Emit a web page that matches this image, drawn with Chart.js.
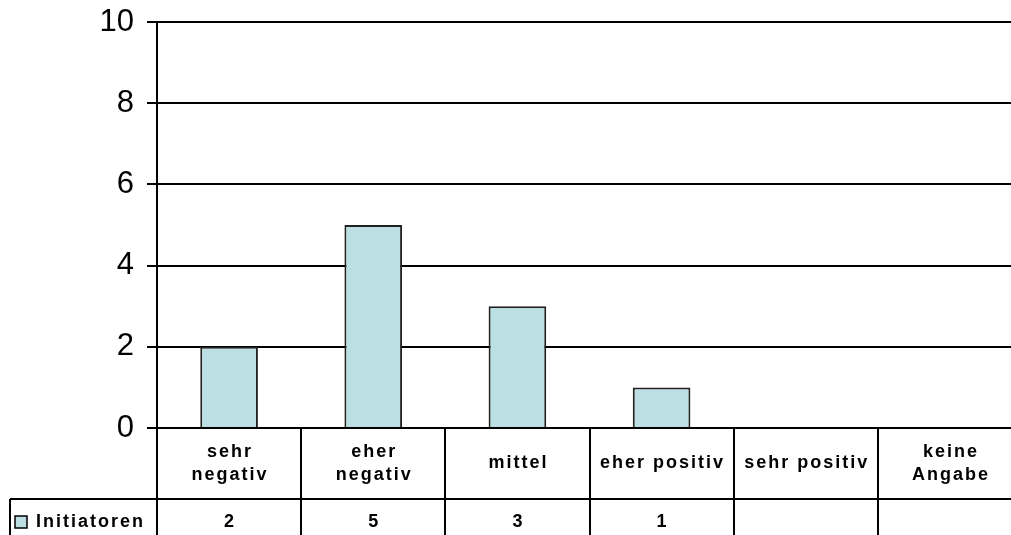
<!DOCTYPE html>
<html>
<head>
<meta charset="utf-8">
<script src="https://cdn.jsdelivr.net/npm/chart.js@4"></script>
<style>
    body { margin: 0; background: #fff; }
    #wrap { width: 1011px; height: 535px; overflow: hidden; position: relative; }
</style>
</head>
<body>
<div id="wrap"><canvas id="myChart" width="1022" height="535"></canvas></div>
<script>
// Données du graphique
const categories = [['sehr', 'negativ'], ['eher', 'negativ'], ['mittel'], ['eher positiv'], ['sehr positiv'], ['keine', 'Angabe']];
const seriesName = 'Initiatoren';
const initiatoren = [2, 5, 3, 1, null, null];
const yTicks = [0, 2, 4, 6, 8, 10];

const barColor = '#BBDFE2';
const fontFamily = '"Liberation Sans", Arial, sans-serif';

// Tableau de données sous le graphique (style Excel)
const dataTablePlugin = {
    id: 'dataTable',
    afterDraw: (chart) => {
        const ctx = chart.ctx;
        const area = chart.chartArea;
        const x = chart.scales.x;
        const cellW = x.width / categories.length;
        const rowTop = area.bottom;
        const rowMid = 499;
        const bottom = chart.height;

        ctx.save();
        ctx.strokeStyle = '#000';
        ctx.lineWidth = 2;

        // lignes verticales
        for (let i = 0; i <= categories.length; i++) {
            const px = Math.round(x.getPixelForValue(0) - cellW / 2 + i * cellW);
            ctx.beginPath();
            ctx.moveTo(px, rowTop);
            ctx.lineTo(px, bottom);
            ctx.stroke();
        }
        // ligne horizontale entre les rangées
        ctx.beginPath();
        ctx.moveTo(10, rowMid);
        ctx.lineTo(chart.width, rowMid);
        ctx.stroke();
        // bord gauche de la légende
        ctx.beginPath();
        ctx.moveTo(10, rowMid);
        ctx.lineTo(10, bottom);
        ctx.stroke();

        ctx.fillStyle = '#000';
        ctx.font = 'bold 18px ' + fontFamily;
        ctx.letterSpacing = '2px';
        ctx.textAlign = 'center';
        ctx.textBaseline = 'middle';

        // libellés des catégories
        const labelMid = (rowTop + rowMid) / 2;
        categories.forEach((lines, i) => {
            const cx = x.getPixelForValue(i) + 1;
            lines.forEach((line, j) => {
                const cy = labelMid + (j - (lines.length - 1) / 2) * 23;
                ctx.fillText(line, cx, cy);
            });
        });

        // valeurs
        const valueMid = 522;
        initiatoren.forEach((v, i) => {
            if (v === null) return;
            ctx.fillText(String(v), x.getPixelForValue(i) + 1, valueMid);
        });

        // clé de légende
        ctx.fillStyle = barColor;
        ctx.fillRect(15, 516, 12, 12);
        ctx.lineWidth = 1.5;
        ctx.strokeRect(15, 516, 12, 12);
        ctx.fillStyle = '#000';
        ctx.textAlign = 'left';
        ctx.fillText(seriesName, 36, valueMid);
        ctx.restore();
    }
};

const ctx = document.getElementById('myChart').getContext('2d');
const myChart = new Chart(ctx, {
    type: 'bar',
    data: {
        labels: categories.map(c => c.join(' ')),
        datasets: [{
            label: seriesName,
            data: initiatoren,
            backgroundColor: barColor,
            borderColor: '#222',
            borderWidth: 2,
            barPercentage: 0.4,
            categoryPercentage: 1,
        }],
    },
    options: {
        responsive: false,
        animation: false,
        layout: {
            padding: { top: 22, bottom: 107, left: 0, right: 0 },
        },
        scales: {
            x: {
                display: false,
            },
            y: {
                min: 0,
                max: 10,
                afterBuildTicks: (scale) => {
                    scale.ticks = yTicks.map(v => ({ value: v }));
                },
                afterFit: (scale) => {
                    scale.width = 157;
                    scale.paddingTop = 0;
                    scale.paddingBottom = 0;
                },
                ticks: {
                    color: '#000',
                    padding: 13,
                    font: { family: fontFamily, size: 31 },
                },
                grid: {
                    color: '#000',
                    lineWidth: 2,
                    tickLength: 10,
                },
                border: {
                    color: '#000',
                    width: 2,
                },
            },
        },
        plugins: {
            legend: { display: false },
            tooltip: { enabled: false },
        },
    },
    plugins: [dataTablePlugin],
});
</script>
</body>
</html>
